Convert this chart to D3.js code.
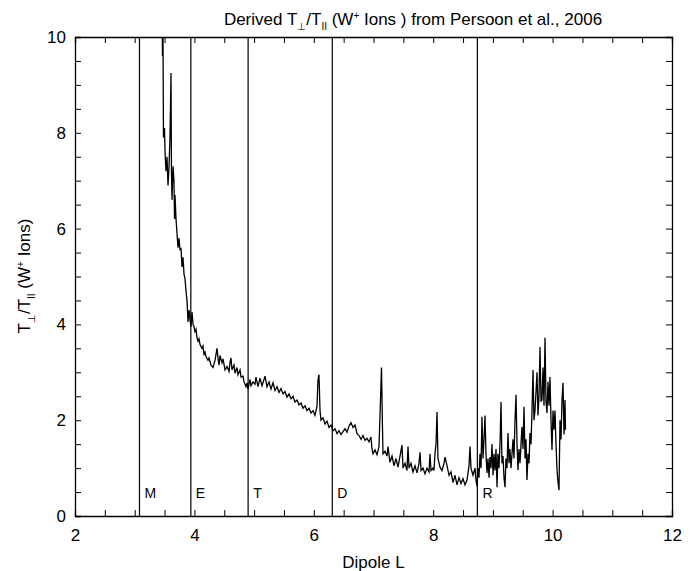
<!DOCTYPE html>
<html>
<head>
<meta charset="utf-8">
<script src="https://cdn.jsdelivr.net/npm/d3@7"></script>
<style>
  body { margin: 0; background: #fff; }
  svg { font-family: "Liberation Sans", Arial, sans-serif; }
</style>
</head>
<body>
<div id="chart"></div>
<script>
// Derived T_perp / T_par vs dipole L

var dipoleL = [
  3.457, 3.466, 3.474, 3.482, 3.499, 3.508, 3.524, 3.541, 3.558, 3.575, 3.591, 3.608, 3.616, 3.625,
  3.642, 3.658, 3.667, 3.675, 3.692, 3.709, 3.725, 3.742, 3.759, 3.776, 3.792, 3.809, 3.826, 3.843,
  3.859, 3.876, 3.893, 3.910, 3.926, 3.943, 3.960, 3.977, 3.993, 4.010, 4.027, 4.044, 4.060, 4.077,
  4.094, 4.127, 4.144, 4.161, 4.178, 4.194, 4.228, 4.245, 4.278, 4.312, 4.345, 4.379, 4.395, 4.412,
  4.429, 4.462, 4.479, 4.513, 4.546, 4.580, 4.596, 4.613, 4.630, 4.663, 4.680, 4.714, 4.730, 4.764,
  4.781, 4.814, 4.831, 4.864, 4.881, 4.898, 4.931, 4.948, 4.982, 5.015, 5.032, 5.065, 5.099, 5.132,
  5.166, 5.183, 5.216, 5.250, 5.283, 5.317, 5.350, 5.384, 5.417, 5.451, 5.484, 5.518, 5.551, 5.585,
  5.618, 5.652, 5.685, 5.719, 5.752, 5.786, 5.819, 5.853, 5.886, 5.920, 5.953, 5.987, 6.020, 6.054,
  6.070, 6.087, 6.104, 6.121, 6.154, 6.188, 6.221, 6.255, 6.288, 6.322, 6.355, 6.389, 6.422, 6.456,
  6.489, 6.523, 6.556, 6.590, 6.623, 6.657, 6.690, 6.724, 6.757, 6.791, 6.824, 6.858, 6.891, 6.925,
  6.958, 6.975, 6.992, 7.025, 7.059, 7.092, 7.109, 7.134, 7.151, 7.159, 7.193, 7.226, 7.243, 7.276,
  7.310, 7.343, 7.377, 7.410, 7.444, 7.477, 7.494, 7.528, 7.561, 7.578, 7.595, 7.628, 7.662, 7.695,
  7.729, 7.762, 7.779, 7.796, 7.829, 7.863, 7.896, 7.930, 7.946, 7.963, 7.997, 8.013, 8.030, 8.047,
  8.064, 8.080, 8.114, 8.147, 8.181, 8.198, 8.231, 8.265, 8.298, 8.332, 8.365, 8.399, 8.432, 8.466,
  8.499, 8.533, 8.566, 8.600, 8.616, 8.633, 8.667, 8.700, 8.717, 8.734, 8.750, 8.767, 8.784, 8.801,
  8.817, 8.834, 8.851, 8.868, 8.884, 8.901, 8.918, 8.935, 8.951, 8.968, 8.985, 9.002, 9.018, 9.035,
  9.052, 9.069, 9.085, 9.102, 9.119, 9.136, 9.152, 9.169, 9.186, 9.203, 9.219, 9.236, 9.253, 9.270,
  9.286, 9.303, 9.320, 9.337, 9.353, 9.370, 9.387, 9.404, 9.420, 9.437, 9.454, 9.471, 9.487, 9.504,
  9.521, 9.538, 9.554, 9.571, 9.588, 9.605, 9.621, 9.638, 9.655, 9.672, 9.688, 9.705, 9.722, 9.739,
  9.755, 9.772, 9.789, 9.806, 9.822, 9.839, 9.856, 9.873, 9.889, 9.906, 9.923, 9.940, 9.956, 9.973,
  9.990, 10.007, 10.023, 10.040, 10.057, 10.074, 10.090, 10.107, 10.124, 10.141, 10.157, 10.174,
  10.191, 10.208, 10.216
];

var tRatio = [
  10.6, 9.6, 10.0, 7.9, 8.1, 7.6, 7.2, 7.5, 6.9, 7.3, 7.9, 9.25, 7.2, 6.6,
  7.3, 7.0, 6.2, 6.7, 6.2, 5.9, 5.6, 5.8, 5.55, 5.6, 5.2, 5.4, 5.05, 4.95,
  4.7, 4.5, 4.05, 4.3, 4.1, 3.95, 4.26, 4.0, 3.95, 3.85, 3.9, 3.72, 3.65, 3.7,
  3.58, 3.5, 3.55, 3.38, 3.42, 3.33, 3.25, 3.3, 3.15, 3.1, 3.25, 3.5, 3.3, 3.15,
  3.35, 3.2, 3.28, 3.05, 3.12, 3.02, 3.2, 3.3, 3.05, 3.15, 2.98, 3.1, 2.95, 3.05,
  2.9, 2.92, 2.8, 2.7, 2.78, 2.65, 2.85, 2.72, 2.8, 2.75, 2.9, 2.7, 2.88, 2.72,
  2.85, 2.92, 2.7, 2.8, 2.65, 2.78, 2.62, 2.7, 2.58, 2.66, 2.55, 2.6, 2.48, 2.55,
  2.45, 2.5, 2.38, 2.42, 2.32, 2.36, 2.25, 2.3, 2.2, 2.25, 2.15, 2.2, 2.1, 2.3,
  2.85, 2.95, 2.2, 2.0, 2.05, 1.92, 1.98, 1.85, 1.9, 1.78, 1.82, 1.72, 1.78, 1.7,
  1.76, 1.82, 1.75, 1.88, 1.95, 1.85, 1.9, 1.72, 1.68, 1.6, 1.68, 1.58, 1.62, 1.55,
  1.65, 1.4, 1.3, 1.38, 1.28, 1.45, 2.1, 3.1, 1.8, 1.3, 1.35, 1.25, 1.45, 1.12,
  1.25, 1.05, 1.2, 1.02, 1.25, 1.48, 1.0, 1.1, 0.95, 1.45, 1.0, 1.1, 0.92, 1.05,
  0.9, 1.1, 1.33, 0.95, 1.0, 0.88, 1.0, 0.92, 1.3, 0.95, 1.0, 0.95, 1.3, 1.5,
  2.17, 1.2, 1.02, 0.95, 1.1, 1.23, 1.05, 0.85, 0.92, 0.7, 0.85, 0.65, 0.8, 0.68,
  0.78, 0.65, 0.75, 1.05, 1.45, 1.0, 0.85, 1.0, 0.75, 0.62, 1.0, 0.8, 1.3, 1.0,
  2.07, 1.2, 1.6, 2.1, 1.3, 0.9, 1.2, 0.8, 1.23, 1.0, 1.5, 0.85, 1.3, 0.95,
  1.4, 0.6, 1.3, 1.0, 1.5, 2.38, 1.1, 1.25, 0.8, 0.6, 1.2, 1.0, 1.73, 1.1,
  1.4, 1.0, 1.3, 1.6, 1.2, 2.0, 2.53, 1.5, 0.96, 1.4, 1.1, 1.5, 1.86, 1.4,
  2.28, 1.2, 1.6, 0.75, 1.3, 1.1, 1.73, 1.5, 2.2, 3.05, 2.0, 2.2, 2.6, 3.0,
  2.1, 2.5, 3.53, 2.4, 2.42, 3.1, 2.3, 3.72, 2.4, 2.15, 2.8, 2.3, 2.9, 2.0,
  1.38, 2.2, 1.8, 2.2, 1.5, 0.96, 0.71, 0.54, 2.0, 1.6, 2.4, 2.78,
  1.7, 2.42, 1.8
];

// region boundaries and their labels
var regionL = [3.08, 3.94, 4.90, 6.31, 8.74];
var regionNames = ["M", "E", "T", "D", "R"];

var xTicks = [2, 4, 6, 8, 10, 12];
var yTicks = [0, 2, 4, 6, 8, 10];

var svgWidth = 694, svgHeight = 571;
var margin = {top: 37, right: 22, bottom: 55, left: 75};
var width = svgWidth - margin.left - margin.right;
var height = svgHeight - margin.top - margin.bottom;

var x = d3.scaleLinear().domain([2, 12]).range([0, width]);
var y = d3.scaleLinear().domain([0, 10]).range([height, 0]);

var svg = d3.select("#chart").append("svg")
    .attr("width", svgWidth)
    .attr("height", svgHeight);

var g = svg.append("g")
    .attr("transform", "translate(" + margin.left + "," + margin.top + ")");

g.append("clipPath").attr("id", "plotClip")
  .append("rect").attr("width", width).attr("height", height);

// minor ticks every 0.5 on all four sides, labels only on bottom/left
var minorX = d3.range(2, 12.01, 0.5);
var minorY = d3.range(0, 10.01, 0.5);

g.append("g")
    .attr("transform", "translate(0," + height + ")")
    .call(d3.axisBottom(x).tickValues(minorX).tickSize(-6).tickFormat(""));
g.append("g")
    .call(d3.axisTop(x).tickValues(minorX).tickSize(-6).tickFormat(""));
g.append("g")
    .call(d3.axisLeft(y).tickValues(minorY).tickSize(-6).tickFormat(""));
g.append("g")
    .attr("transform", "translate(" + width + ",0)")
    .call(d3.axisRight(y).tickValues(minorY).tickSize(-6).tickFormat(""));

var xLab = g.append("g")
    .attr("transform", "translate(0," + height + ")")
    .call(d3.axisBottom(x).tickValues(xTicks).tickSize(0).tickPadding(13).tickFormat(d3.format("d")));
var yLab = g.append("g")
    .call(d3.axisLeft(y).tickValues(yTicks).tickSize(0).tickPadding(9).tickFormat(d3.format("d")));

g.selectAll(".domain").attr("stroke", "#000").attr("stroke-width", 1.3);
g.selectAll(".tick line").attr("stroke", "#000");
xLab.selectAll(".domain").remove();
yLab.selectAll(".domain").remove();
g.selectAll(".tick text").attr("font-size", 17).attr("fill", "#000")
    .style("font-family", "Liberation Sans, Arial, sans-serif");

// region lines
g.selectAll(".region")
    .data(regionL)
  .enter().append("line")
    .attr("class", "region")
    .attr("x1", function(d) { return x(d); })
    .attr("x2", function(d) { return x(d); })
    .attr("y1", 0)
    .attr("y2", height)
    .attr("stroke", "#111")
    .attr("stroke-width", 1.3);

g.selectAll(".regionLabel")
    .data(regionL)
  .enter().append("text")
    .attr("class", "regionLabel")
    .attr("x", function(d) { return x(d) + 5; })
    .attr("y", height - 18)
    .attr("font-size", 14)
    .text(function(d, i) { return regionNames[i]; });

// data line
var points = dipoleL.map(function(d, i) { return [d, tRatio[i]]; });
var line = d3.line()
    .x(function(d) { return x(d[0]); })
    .y(function(d) { return y(d[1]); });

g.append("path")
    .datum(points)
    .attr("clip-path", "url(#plotClip)")
    .attr("fill", "none")
    .attr("stroke", "#000")
    .attr("stroke-width", 1.3)
    .attr("d", line);

// title
var title = svg.append("text")
    .attr("x", 413)
    .attr("y", 25)
    .attr("text-anchor", "middle")
    .attr("font-size", 17);
title.append("tspan").text("Derived T");
title.append("tspan").attr("font-size", 10).attr("dy", 5).text("\u22A5");
title.append("tspan").attr("dy", -5).text("/T");
title.append("tspan").attr("font-size", 10).attr("dy", 5).text("II");
title.append("tspan").attr("dy", -5).text(" (W");
title.append("tspan").attr("font-size", 10).attr("dy", -6).text("+");
title.append("tspan").attr("dy", 6).text(" Ions ) from Persoon et al., 2006");

// axis labels
svg.append("text")
    .attr("x", margin.left + width / 2)
    .attr("y", 568)
    .attr("text-anchor", "middle")
    .attr("font-size", 17)
    .text("Dipole L");

var yTitle = svg.append("text")
    .attr("transform", "translate(30,276) rotate(-90)")
    .attr("text-anchor", "middle")
    .attr("font-size", 17);
yTitle.append("tspan").text("T");
yTitle.append("tspan").attr("font-size", 10).attr("dy", 5).text("\u22A5");
yTitle.append("tspan").attr("dy", -5).text("/T");
yTitle.append("tspan").attr("font-size", 10).attr("dy", 5).text("II");
yTitle.append("tspan").attr("dy", -5).text(" (W");
yTitle.append("tspan").attr("font-size", 10).attr("dy", -6).text("+");
yTitle.append("tspan").attr("dy", 6).text(" Ions)");
</script>
</body>
</html>
